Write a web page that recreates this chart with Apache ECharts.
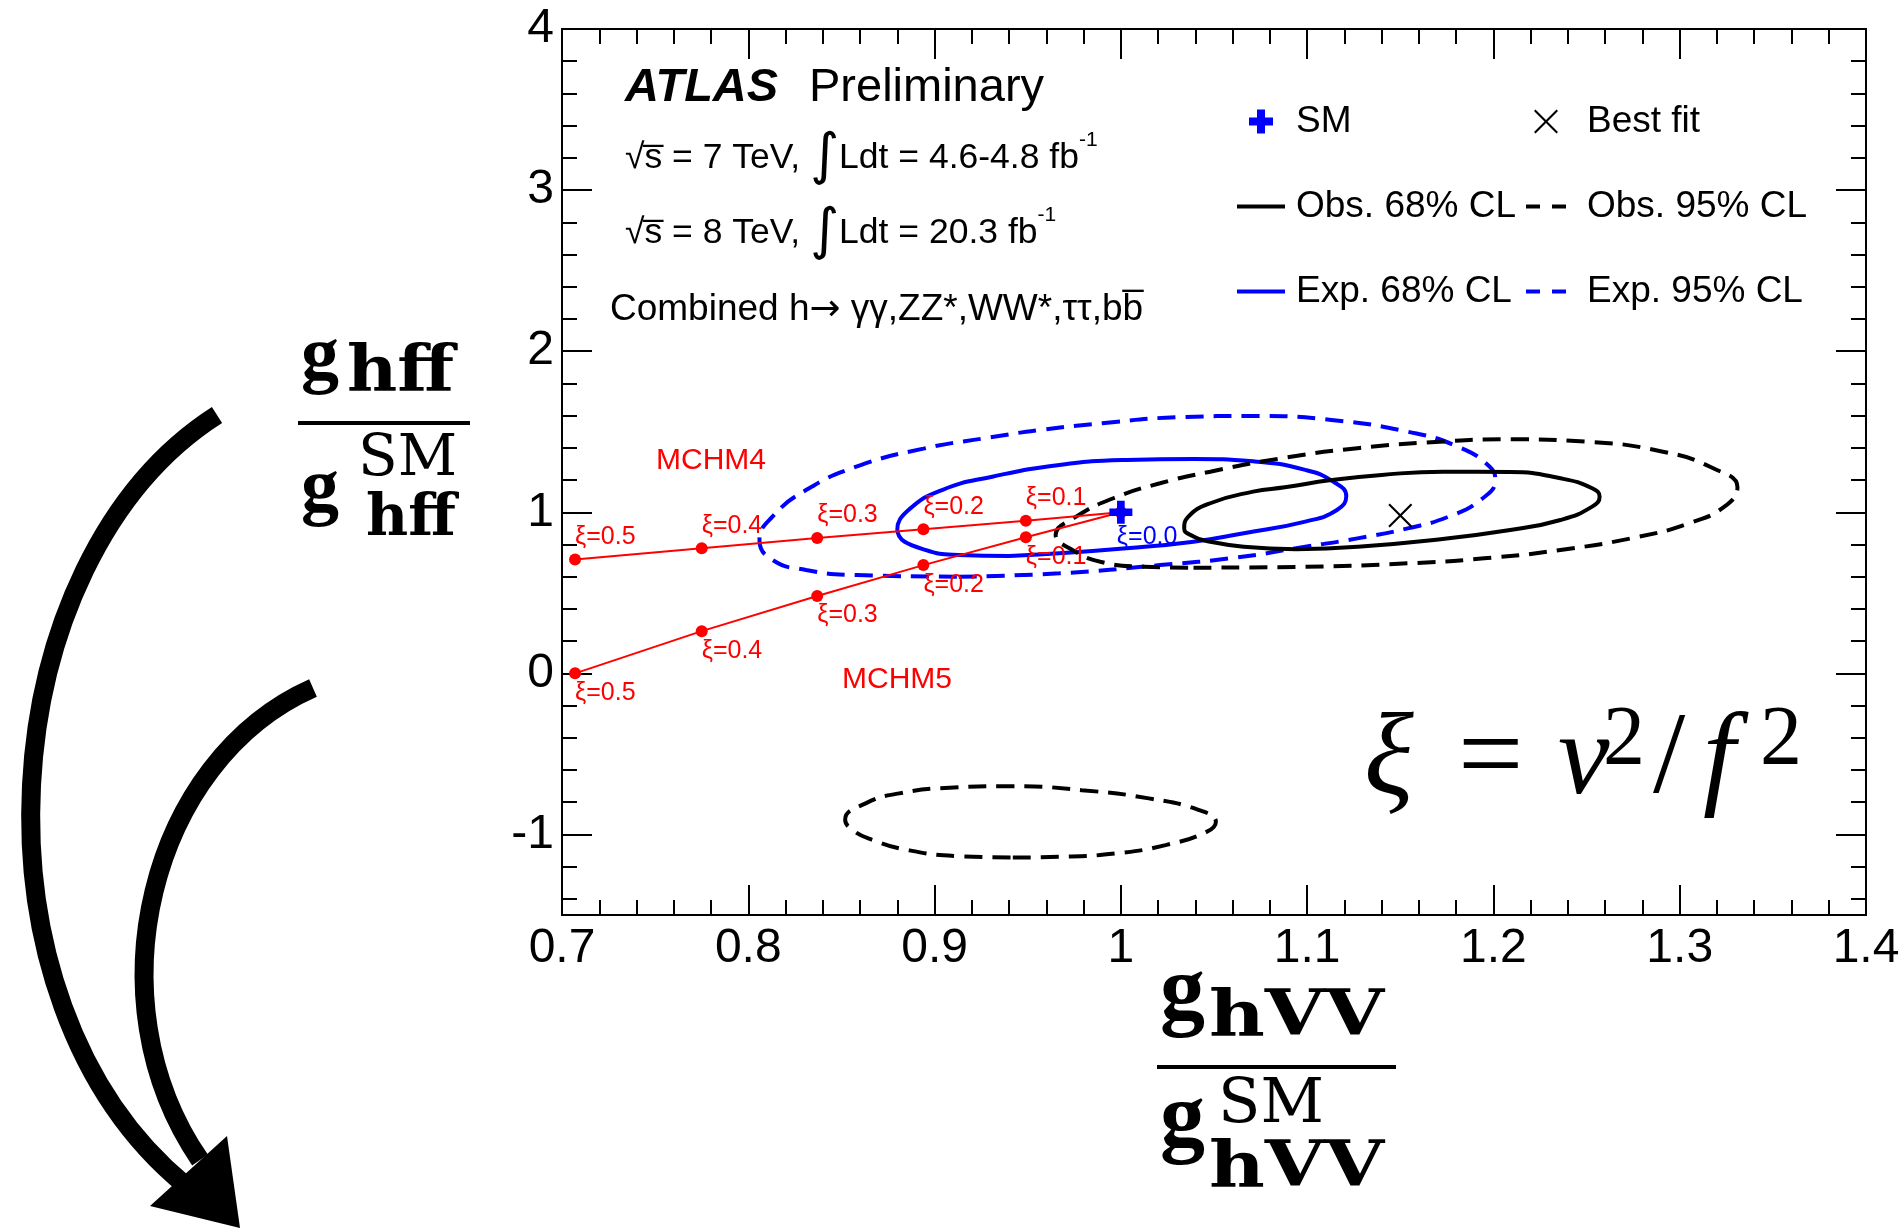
<!DOCTYPE html>
<html>
<head>
<meta charset="utf-8">
<script src="https://cdn.jsdelivr.net/npm/echarts@6/dist/echarts.min.js"></script>
<style>
  html, body { margin: 0; padding: 0; background: #fff; }
  #chart { width: 1904px; height: 1228px; }
</style>
</head>
<body>
<div id="chart"></div>
<script>
// composite Higgs benchmark lines (gV, gF) for xi = 0.5 ... 0.0
const mchm4 = [[0.707, 0.707], [0.775, 0.776], [0.837, 0.840], [0.894, 0.895], [0.949, 0.948], [1.0, 1.0]]
const mchm5 = [[0.707, 0.0], [0.775, 0.262], [0.837, 0.480], [0.894, 0.672], [0.949, 0.845], [1.0, 1.0]]
const mchm4Labels = ['ξ=0.5', 'ξ=0.4', 'ξ=0.3', 'ξ=0.2', 'ξ=0.1', '']
const mchm5Labels = ['ξ=0.5', 'ξ=0.4', 'ξ=0.3', 'ξ=0.2', 'ξ=0.1', '']

const smPoint = [[1.0, 1.0]]
const bestFit = [[1.15, 0.98]]

// contours
const obs68 = [[1.094, 0.770], [1.127, 0.786], [1.168, 0.828], [1.209, 0.890], [1.236, 0.952], [1.253, 1.035],
  [1.257, 1.097], [1.253, 1.149], [1.236, 1.211], [1.209, 1.250], [1.173, 1.252], [1.140, 1.232], [1.113, 1.200],
  [1.088, 1.155], [1.071, 1.128], [1.048, 1.056], [1.036, 0.970], [1.034, 0.900], [1.039, 0.850], [1.046, 0.822],
  [1.066, 0.786], [1.094, 0.770]]
const obs95 = [[1.039, 0.656], [1.099, 0.662], [1.154, 0.683], [1.195, 0.714], [1.236, 0.766], [1.278, 0.848],
  [1.305, 0.932], [1.324, 1.035], [1.331, 1.155], [1.318, 1.273], [1.291, 1.376], [1.250, 1.438], [1.209, 1.453],
  [1.171, 1.438], [1.127, 1.398], [1.086, 1.335], [1.048, 1.252], [1.021, 1.180], [0.996, 1.087], [0.976, 0.973],
  [0.965, 0.859], [0.974, 0.766], [0.989, 0.693], [1.012, 0.662], [1.039, 0.656]]
const obs95Low = [[0.942, -1.143], [0.967, -1.139], [0.997, -1.118], [1.024, -1.066], [1.046, -0.984], [1.051, -0.922],
  [1.042, -0.849], [1.015, -0.776], [0.979, -0.725], [0.942, -0.700], [0.908, -0.710], [0.881, -0.745], [0.863, -0.807],
  [0.852, -0.907], [0.856, -0.973], [0.867, -1.035], [0.886, -1.098], [0.913, -1.135], [0.942, -1.143]]
const exp68 = [[0.940, 0.729], [0.967, 0.745], [1.003, 0.776], [1.039, 0.817], [1.066, 0.870], [1.099, 0.942],
  [1.116, 1.014], [1.121, 1.100], [1.114, 1.190], [1.099, 1.263], [1.071, 1.316], [1.039, 1.331], [1.003, 1.325],
  [0.967, 1.294], [0.931, 1.221], [0.904, 1.138], [0.886, 1.014], [0.880, 0.894], [0.895, 0.766], [0.913, 0.735],
  [0.940, 0.729]]
const exp95 = [[0.913, 0.600], [0.967, 0.621], [1.021, 0.672], [1.062, 0.719], [1.099, 0.786], [1.127, 0.838],
  [1.154, 0.900], [1.176, 0.973], [1.193, 1.076], [1.201, 1.200], [1.198, 1.283], [1.181, 1.407], [1.154, 1.500],
  [1.113, 1.573], [1.072, 1.598], [1.031, 1.590], [0.990, 1.553], [0.956, 1.510], [0.930, 1.465], [0.894, 1.395],
  [0.858, 1.283], [0.831, 1.138], [0.813, 0.973], [0.806, 0.828], [0.813, 0.704], [0.831, 0.642], [0.858, 0.610],
  [0.913, 0.600]]

// y axis ticks (ROOT style: major every 1, minor every 0.2)
const yMajorTicks = [-1, 0, 1, 2, 3, 4]
const yMinorTicks = [-1.4, -1.2, -0.8, -0.6, -0.4, -0.2, 0.2, 0.4, 0.6, 0.8, 1.2, 1.4, 1.6, 1.8,
  2.2, 2.4, 2.6, 2.8, 3.2, 3.4, 3.6, 3.8]

const SANS = 'Liberation Sans'
const BLUE = '#0000ff'
const RED = '#ff0000'
const DASH = [18, 10]

const chart = echarts.init(document.getElementById('chart'))

function xAxisCfg (pos, labels) {
  return {
    type: 'value', position: pos, min: 0.7, max: 1.4, interval: 0.1,
    axisLine: { show: true, onZero: false, lineStyle: { color: '#000', width: 2 } },
    axisTick: { show: true, inside: true, length: 30, lineStyle: { color: '#000', width: 2 } },
    minorTick: { show: true, splitNumber: 5, length: 15, lineStyle: { color: '#000', width: 2 } },
    axisLabel: { show: labels, fontSize: 48, color: '#000', fontFamily: SANS, margin: 10 },
    splitLine: { show: false }, minorSplitLine: { show: false }
  }
}
function yAxisCfg (pos, ticks, len, line, labels) {
  return {
    type: 'value', position: pos, min: -1.5, max: 4,
    axisLine: { show: line, onZero: false, lineStyle: { color: '#000', width: 2 } },
    axisTick: { show: true, inside: true, length: len, customValues: ticks, lineStyle: { color: '#000', width: 2 } },
    axisLabel: { show: labels, customValues: yMajorTicks, fontSize: 48, color: '#000', fontFamily: SANS, margin: 8 },
    splitLine: { show: false }
  }
}

function contour (name, data, color, dashed) {
  return {
    name: name, type: 'line', data: data, smooth: 0.5, symbol: 'none',
    lineStyle: { color: color, width: 4, type: dashed ? DASH : 'solid' },
    itemStyle: { color: color }, z: 3, silent: true
  }
}

function modelLine (name, data, labels, pos) {
  return {
    name: name, type: 'line', data: data, symbol: 'circle', symbolSize: 12,
    lineStyle: { color: RED, width: 2 }, itemStyle: { color: RED }, z: 4,
    label: {
      show: true, position: pos, align: 'left', distance: pos === 'top' ? 4 : 1,
      color: RED, fontSize: 25, fontFamily: SANS,
      formatter: p => labels[p.dataIndex]
    }
  }
}

const plusPath = 'path://M3,0h3v3h3v3h-3v3h-3v-3h-3v-3h3z'
const crossPath = 'path://M0,1.5L1.5,0L12,10.5L22.5,0L24,1.5L13.5,12L24,22.5L22.5,24L12,13.5L1.5,24L0,22.5L10.5,12Z'

// text helpers for the annotations
function txt (x, y, text, style, sx) {
  return {
    type: 'text', x: x, y: y, z: 50, scaleX: sx || 1,
    style: Object.assign({ text: text, fill: '#000', verticalAlign: 'middle', align: 'left', fontFamily: SANS }, style)
  }
}
const gB = { fontFamily: 'Liberation Serif', fontWeight: 'bold' }
const serifB = { fontFamily: 'DejaVu Serif', fontWeight: 'bold' }
const serif = { fontFamily: 'DejaVu Serif' }
const times = { fontFamily: 'Liberation Serif' }
const timesI = { fontFamily: 'Liberation Serif', fontStyle: 'italic' }
const noSymbol = { opacity: 0 }
const legendText = { fontSize: 37, fontFamily: SANS, color: '#000' }
const lumiRich = { i: { fontSize: 56, fontFamily: 'DejaVu Sans' }, s: { fontSize: 21, verticalAlign: 'top', fontFamily: SANS } }

const option = {
  backgroundColor: '#fff',
  animation: false,
  grid: { left: 562, right: 38, top: 29, bottom: 313, containLabel: false },
  xAxis: [xAxisCfg('bottom', true), xAxisCfg('top', false)],
  yAxis: [
    yAxisCfg('left', yMajorTicks, 30, true, true),
    yAxisCfg('left', yMinorTicks, 15, false, false),
    yAxisCfg('right', yMajorTicks, 30, true, false),
    yAxisCfg('right', yMinorTicks, 15, false, false)
  ],
  legend: [
    {
      data: ['SM', { name: 'Obs. 68% CL', itemStyle: noSymbol }, { name: 'Exp. 68% CL', itemStyle: noSymbol }],
      orient: 'vertical', left: 1235, top: 103, padding: 0,
      itemWidth: 48, itemHeight: 24, itemGap: 48, selectedMode: false,
      lineStyle: { width: 4 },
      textStyle: Object.assign({ padding: [0, 0, 0, 6] }, legendText)
    },
    {
      data: ['Best fit', { name: 'Obs. 95% CL', itemStyle: noSymbol }, { name: 'Exp. 95% CL', itemStyle: noSymbol }],
      orient: 'vertical', left: 1524, top: 103, padding: 0,
      itemWidth: 40, itemHeight: 24, itemGap: 48, selectedMode: false,
      lineStyle: { width: 4, type: [14, 12] },
      textStyle: Object.assign({ padding: [0, 0, 0, 16] }, legendText)
    }
  ],
  series: [
    contour('Exp. 95% CL', exp95, BLUE, true),
    contour('Exp. 68% CL', exp68, BLUE, false),
    contour('Obs. 95% CL', obs95, '#000', true),
    contour('Obs. 95% CL', obs95Low, '#000', true),
    contour('Obs. 68% CL', obs68, '#000', false),
    modelLine('MCHM4', mchm4, mchm4Labels, 'top'),
    modelLine('MCHM5', mchm5, mchm5Labels, 'bottom'),
    {
      name: 'Best fit', type: 'scatter', data: bestFit, symbol: crossPath, symbolSize: 24,
      itemStyle: { color: '#000', opacity: 1 }, z: 6
    },
    {
      name: 'SM', type: 'scatter', data: smPoint, symbol: plusPath, symbolSize: 23,
      itemStyle: { color: BLUE, opacity: 1 }, z: 7,
      label: { show: true, position: 'bottom', align: 'left', distance: 1, offset: [-4, 0], formatter: 'ξ=0.0', color: BLUE, fontSize: 25, fontFamily: SANS }
    }
  ],
  graphic: [
    txt(625, 88, 'ATLAS', { fontSize: 47, fontWeight: 'bold', fontStyle: 'italic' }),
    txt(809, 88, 'Preliminary', { fontSize: 47 }),
    txt(625, 158, '√s\u0305 = 7 TeV, {i|∫}Ldt = 4.6-4.8 fb{s|-1}', { fontSize: 35.5, rich: lumiRich }),
    txt(625, 233, '√s\u0305 = 8 TeV, {i|∫}Ldt = 20.3 fb{s|-1}', { fontSize: 35.5, rich: lumiRich }),
    txt(610, 310, 'Combined h{a|→} γγ,ZZ*,WW*,ττ,bb\u0305', { fontSize: 37, rich: { a: { fontSize: 37, fontFamily: 'DejaVu Sans' } } }),
    txt(656, 461, 'MCHM4', { fontSize: 30, fill: RED }),
    txt(842, 680, 'MCHM5', { fontSize: 30, fill: RED }),
    // xi = v^2 / f^2
    txt(1364, 762, 'ξ', Object.assign({ fontSize: 116 }, timesI)),
    txt(1458, 762, '=', Object.assign({ fontSize: 116 }, times)),
    txt(1558, 762, 'v', Object.assign({ fontSize: 116 }, timesI)),
    txt(1603, 742, '2', Object.assign({ fontSize: 84 }, times)),
    txt(1653, 762, '/', Object.assign({ fontSize: 116 }, times)),
    txt(1703, 762, 'f', Object.assign({ fontSize: 116 }, timesI)),
    txt(1760, 742, '2', Object.assign({ fontSize: 84 }, times)),
    // y axis title: g_hff / g_hff^SM
    txt(301, 359, 'g', Object.assign({ fontSize: 76 }, gB)),
    txt(347, 373, 'hff', Object.assign({ fontSize: 64 }, serifB), 1.08),
    { type: 'line', z: 50, shape: { x1: 298, y1: 423, x2: 470, y2: 423 }, style: { stroke: '#000', lineWidth: 4 } },
    txt(301, 491, 'g', Object.assign({ fontSize: 76 }, gB)),
    txt(358, 460, 'SM', Object.assign({ fontSize: 58 }, serif)),
    txt(366, 520, 'hff', Object.assign({ fontSize: 58 }, serifB)),
    // x axis title: g_hVV / g_hVV^SM
    txt(1160, 996, 'g', Object.assign({ fontSize: 90 }, gB)),
    txt(1209, 1018, 'hVV', Object.assign({ fontSize: 64 }, serifB), 1.2),
    { type: 'line', z: 50, shape: { x1: 1157, y1: 1067, x2: 1396, y2: 1067 }, style: { stroke: '#000', lineWidth: 4 } },
    txt(1160, 1123, 'g', Object.assign({ fontSize: 90 }, gB)),
    txt(1218, 1106, 'SM', Object.assign({ fontSize: 62 }, serif)),
    txt(1209, 1169, 'hVV', Object.assign({ fontSize: 64 }, serifB), 1.2),
    // decorative arrows on the left
    { type: 'bezierCurve', z: 50, shape: { x1: 217, y1: 415, cpx1: -10, cpy1: 560, cpx2: -40, cpy2: 1000, x2: 185, y2: 1185 }, style: { stroke: '#000', lineWidth: 19, fill: null } },
    { type: 'bezierCurve', z: 50, shape: { x1: 313, y1: 688, cpx1: 150, cpy1: 760, cpx2: 90, cpy2: 1000, x2: 200, y2: 1160 }, style: { stroke: '#000', lineWidth: 19, fill: null } },
    { type: 'polygon', z: 51, shape: { points: [[150, 1206], [227, 1136], [240, 1228]] }, style: { fill: '#000' } }
  ]
}

chart.setOption(option)
</script>
</body>
</html>
